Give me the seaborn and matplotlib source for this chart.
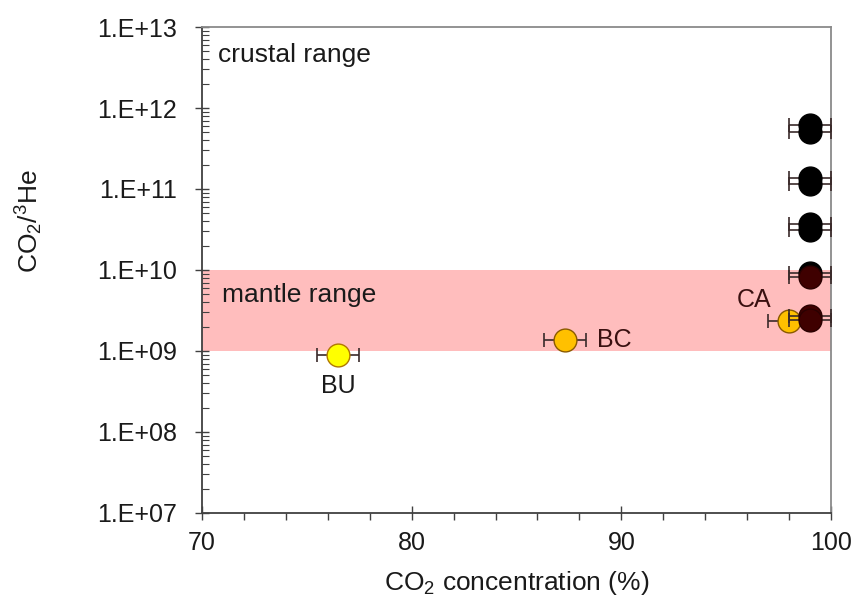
import matplotlib
matplotlib.use('Agg')
import matplotlib.pyplot as plt
import matplotlib.ticker as mticker
import numpy as np
import pandas as pd
import seaborn as sns

# Data
bu_x, bu_y = [76.5], [8.9e8]
bc_x, bc_y = [87.3], [1.37e9]
ca_x, ca_y = [98.0], [2.34e9]
black_x = [99.0, 99.0, 99.0, 99.0, 99.0, 99.0, 99.0]
black_y = [6.25e11, 5.1e11, 1.35e11, 1.14e11, 3.75e10, 3.08e10, 9.2e9]
brown_x = [99.0, 99.0, 99.0]
brown_y = [8.3e9, 2.67e9, 2.38e9]
x_err = 1.0
mantle_low, mantle_high = 1e9, 1e10

groups = [
    ('BU', bu_x, bu_y, '#ffff00', '#b07800'),
    ('BC', bc_x, bc_y, '#ffc000', '#8a5a00'),
    ('CA', ca_x, ca_y, '#ffc000', '#8a5a00'),
    ('black', black_x, black_y, '#000000', '#000000'),
    ('brown', brown_x, brown_y, '#3f0000', '#2a0000'),
]

sns.set_style('white')
plt.rcParams['font.family'] = ['Liberation Sans', 'DejaVu Sans']
plt.rcParams['mathtext.default'] = 'regular'

fig = plt.figure(figsize=(8.57, 6.07), dpi=100)
ax = fig.add_axes([0.2357, 0.1549, 0.7340, 0.8006])

ax.axhspan(mantle_low, mantle_high, color='#ffbdbd', lw=0, zorder=0)

for i, (name, xs, ys, fc, ec) in enumerate(groups):
    df = pd.DataFrame({'x': xs, 'y': ys})
    ax.errorbar(df['x'], df['y'], xerr=x_err, fmt='none', ecolor='#3a2a2a',
                elinewidth=1.2, capsize=5, capthick=1.2, zorder=2 + 2 * i)
    sns.scatterplot(data=df, x='x', y='y', ax=ax, color=fc, edgecolor=ec,
                    linewidth=1.0, s=270, zorder=3 + 2 * i, legend=False)

ax.set_yscale('log')
ax.set_xlim(70, 100)
ax.set_ylim(1e7, 1e13)
ax.set_xticks([70, 80, 90, 100])
ax.xaxis.set_minor_locator(mticker.MultipleLocator(2))
ax.yaxis.set_major_locator(mticker.LogLocator(base=10, numticks=10))
ax.yaxis.set_minor_locator(mticker.LogLocator(base=10, subs=np.arange(2, 10), numticks=10))
ax.yaxis.set_minor_formatter(mticker.NullFormatter())
ax.yaxis.set_major_formatter(mticker.FuncFormatter(
    lambda v, p: '1.E+%02d' % int(round(np.log10(v)))))

ax.tick_params(axis='both', which='both', bottom=True, left=True, top=False, right=False)
ax.tick_params(axis='both', which='major', direction='inout', length=10,
               width=1.0, color='#404040', labelsize=18, labelcolor='#1a1a1a')
ax.tick_params(axis='x', which='major', pad=8)
ax.tick_params(axis='y', which='major', pad=13)
ax.tick_params(axis='x', which='minor', direction='out', length=5, width=1.0, color='#404040')
ax.tick_params(axis='y', which='minor', direction='in', length=5, width=0.8, color='#404040')

for side in ['left', 'bottom']:
    ax.spines[side].set_color('#404040')
    ax.spines[side].set_linewidth(1.3)
for side in ['top', 'right']:
    ax.spines[side].set_color('#8a8a8a')
    ax.spines[side].set_linewidth(1.3)

ax.set_xlabel('CO$_2$ concentration (%)', fontsize=19, color='#1a1a1a', labelpad=10)
ax.set_ylabel('CO$_2$/$^3$He', fontsize=19, color='#1a1a1a')
ax.yaxis.set_label_coords(-0.25, 0.60)

ax.text(0.025, 0.942, 'crustal range', transform=ax.transAxes, fontsize=19,
        va='center', ha='left', color='#1a1a1a')
ax.text(0.032, 0.449, 'mantle range', transform=ax.transAxes, fontsize=19,
        va='center', ha='left', color='#1a1a1a')

ax.annotate('BU', (bu_x[0], bu_y[0]), xytext=(0, -22), textcoords='offset points',
            ha='center', va='center', fontsize=18, color='#1a1a1a')
ax.annotate('BC', (bc_x[0], bc_y[0]), xytext=(23, 0), textcoords='offset points',
            ha='left', va='center', fontsize=18, color='#3a1010')
ax.annotate('CA', (ca_x[0], ca_y[0]), xytext=(-13, 15), textcoords='offset points',
            ha='right', va='center', fontsize=18, color='#3a1010')

fig.savefig('out.png', dpi=100)
